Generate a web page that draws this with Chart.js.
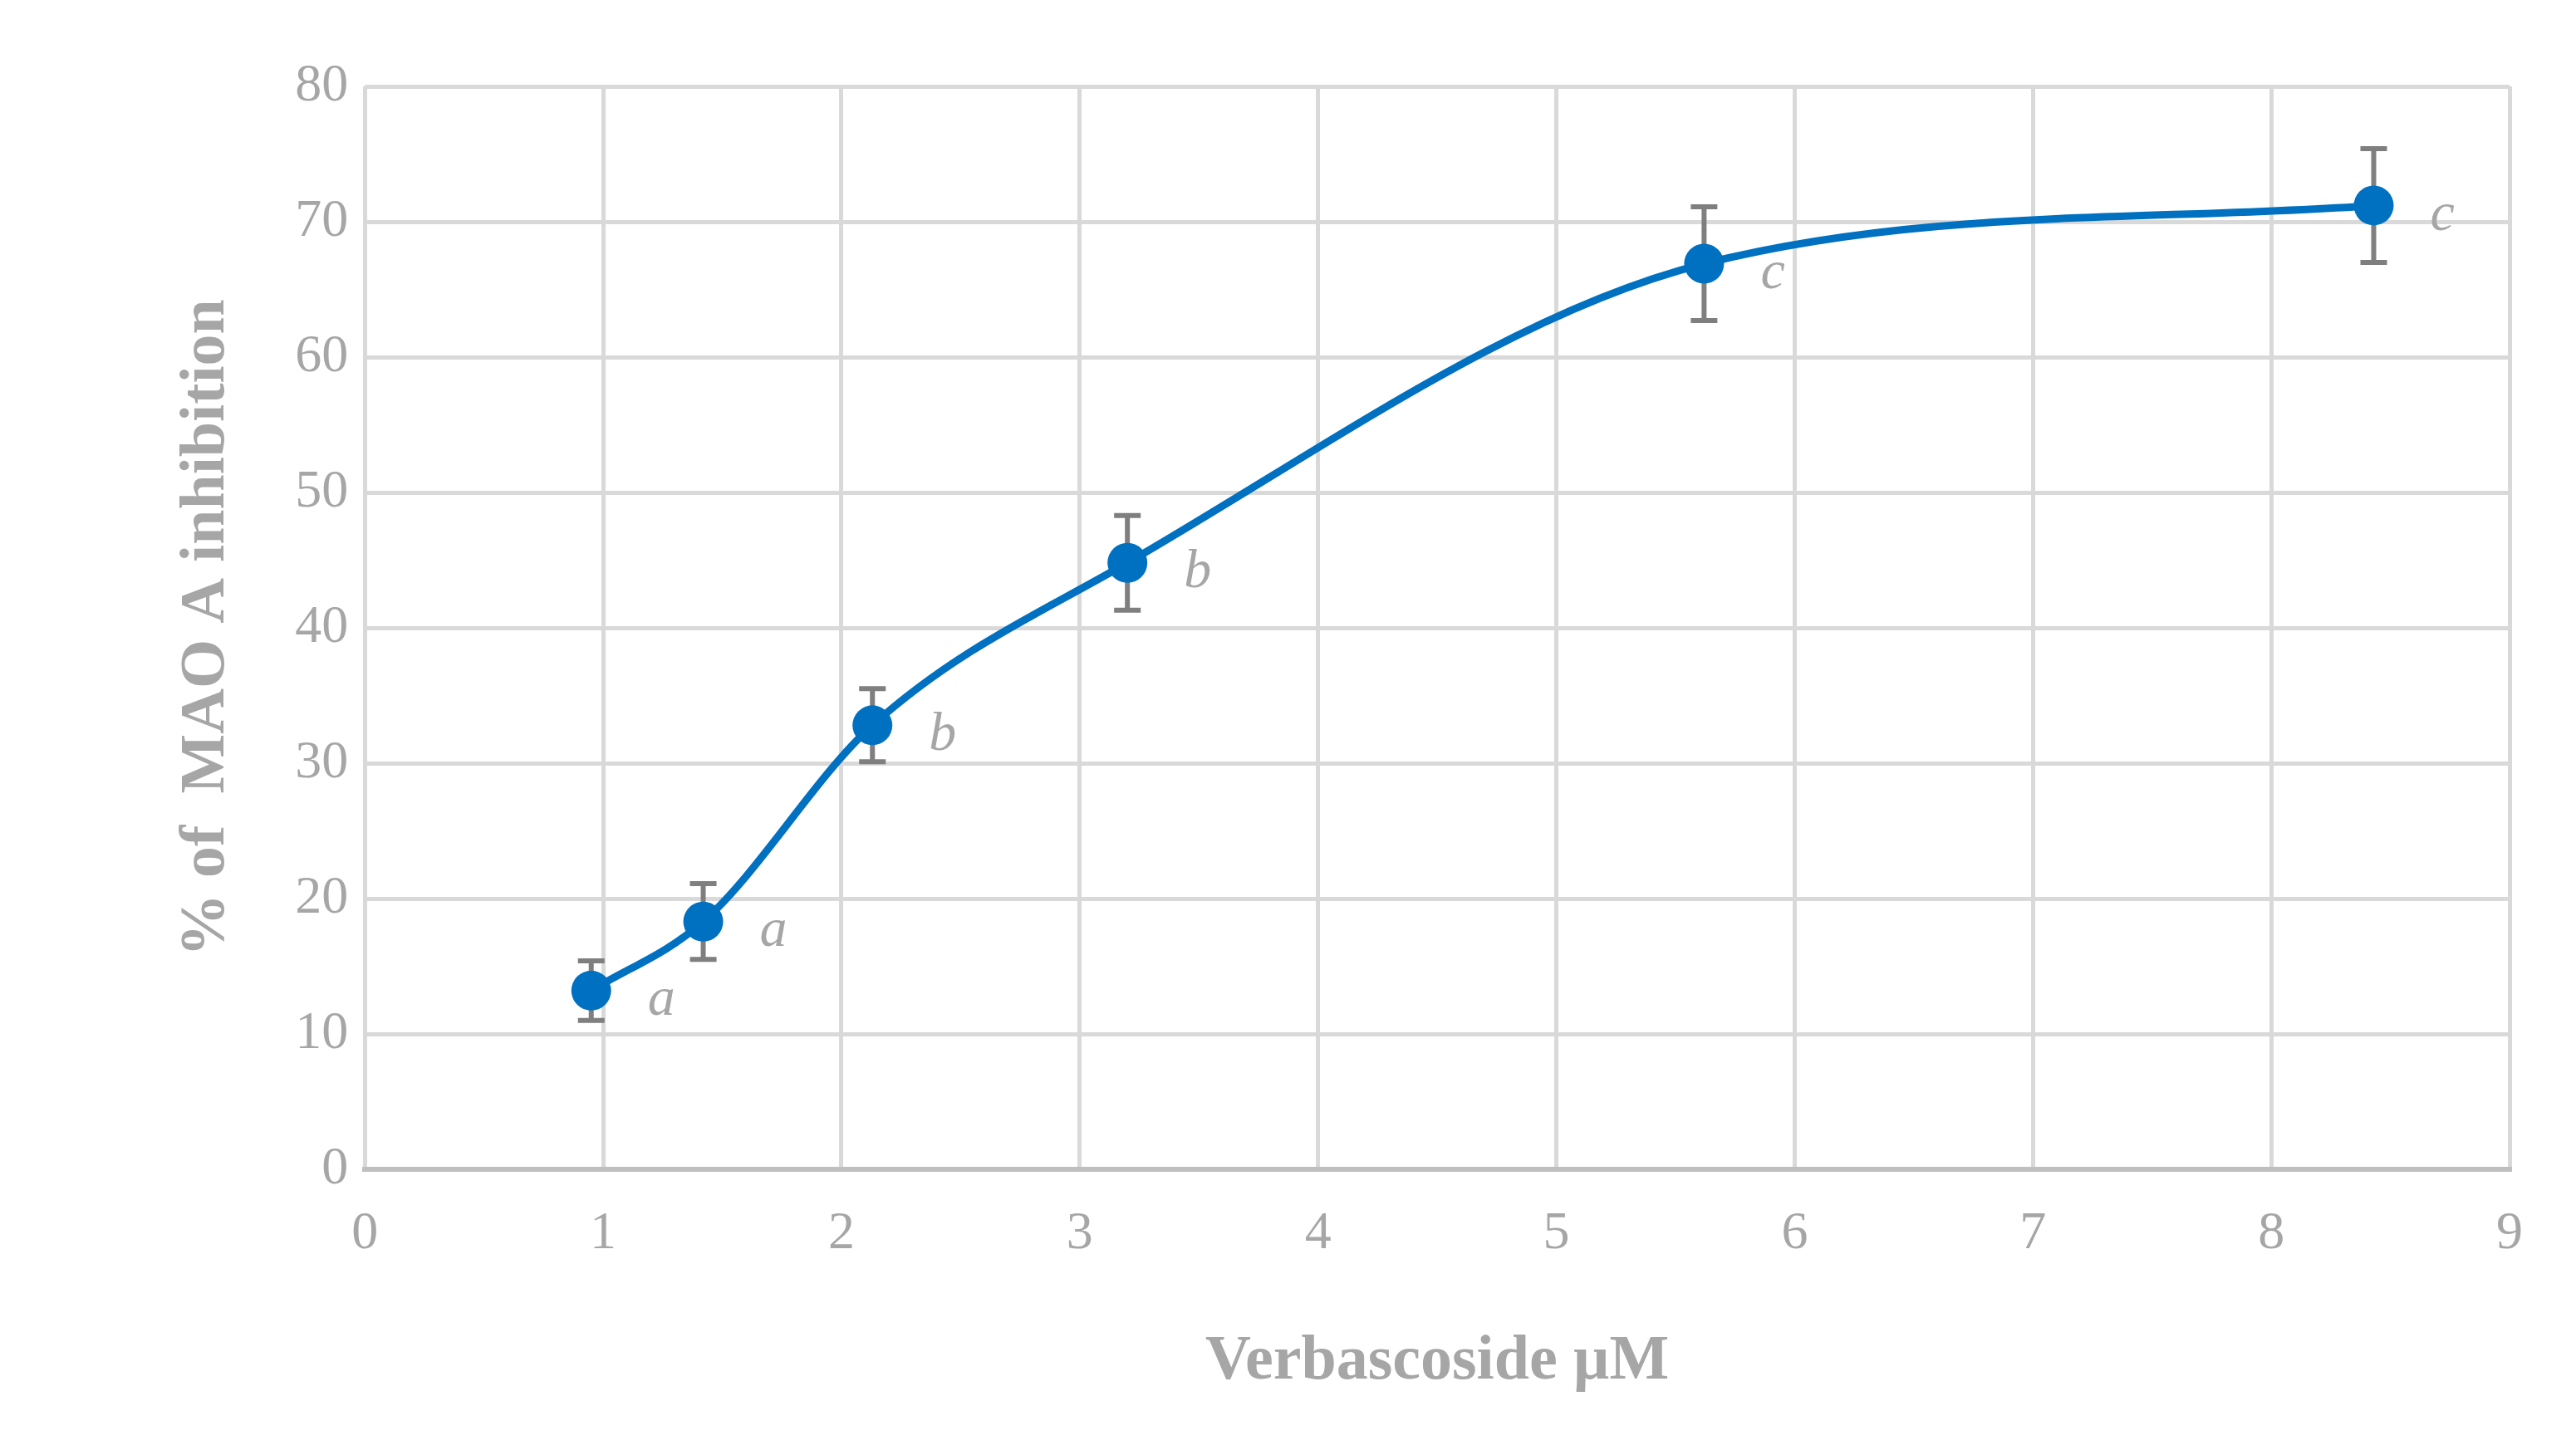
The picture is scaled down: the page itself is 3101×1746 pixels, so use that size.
<!DOCTYPE html>
<html><head><meta charset="utf-8">
<script src="https://cdn.jsdelivr.net/npm/chart.js@4"></script>
<style>html,body{margin:0;background:#fff}#w{width:3101px;height:1746px}</style>
</head><body><div id="w"><canvas id="c"></canvas></div>
<script>
const xValues=[0.95,1.42,2.13,3.2,5.62,8.43];
const yValues=[13.2,18.3,32.8,44.8,66.9,71.2];
const errValues=[2.2,2.8,2.7,3.5,4.2,4.2];
const letters=['a','a','b','b','c','c'];
const xTitle='Verbascoside µM';
const yTitle='% of  MAO A inhibition';
const FONT='"Liberation Serif","DejaVu Serif",serif';
const GREY='#a6a6a6';
const extras={id:'extras',afterDatasetsDraw(ch){
  const c=ch.ctx,xs=ch.scales.x,ys=ch.scales.y;
  c.save();
  c.strokeStyle='#7f7f7f';c.lineWidth=6;
  xValues.forEach((x,i)=>{
    const px=xs.getPixelForValue(x),t=ys.getPixelForValue(yValues[i]+errValues[i]),b=ys.getPixelForValue(yValues[i]-errValues[i]);
    c.beginPath();c.moveTo(px,t);c.lineTo(px,b);
    c.moveTo(px-16,t);c.lineTo(px+16,t);c.moveTo(px-16,b);c.lineTo(px+16,b);c.stroke();
  });
  const m=ch.getDatasetMeta(0);
  m.data.forEach(p=>{c.beginPath();c.arc(p.x,p.y,24,0,Math.PI*2);c.fillStyle='#0070c0';c.fill();});
  c.fillStyle=GREY;c.font='italic 66px '+FONT;c.textBaseline='middle';
  xValues.forEach((x,i)=>{
    c.fillText(letters[i],xs.getPixelForValue(x)+68,ys.getPixelForValue(yValues[i])+12);
  });
  c.restore();
}};
new Chart(document.getElementById('c'),{
  type:'scatter',
  data:{datasets:[{data:xValues.map((x,i)=>({x,y:yValues[i]})),showLine:true,borderColor:'#0070c0',borderWidth:9,tension:0.4,cubicInterpolationMode:'monotone',pointRadius:0}]},
  options:{responsive:true,maintainAspectRatio:false,animation:false,
    layout:{padding:{left:200,right:80,top:104,bottom:56}},
    plugins:{legend:{display:false},tooltip:{enabled:false}},
    scales:{
      x:{type:'linear',min:0,max:9,ticks:{stepSize:1,color:GREY,font:{family:FONT,size:64},padding:40},
        grid:{color:'#d9d9d9',lineWidth:5,drawTicks:false},border:{color:'#bfbfbf',width:6},
        title:{display:true,text:xTitle,color:GREY,font:{family:FONT,size:76,weight:'bold'},padding:{top:30}}},
      y:{min:0,max:80,ticks:{stepSize:10,color:GREY,font:{family:FONT,size:64},padding:20},
        grid:{color:'#d9d9d9',lineWidth:5,drawTicks:false},border:{display:false},
        title:{display:true,text:yTitle,color:GREY,font:{family:FONT,size:76,weight:'bold'},padding:{bottom:40}}}
    }}
  ,plugins:[extras]});
</script></body></html>
